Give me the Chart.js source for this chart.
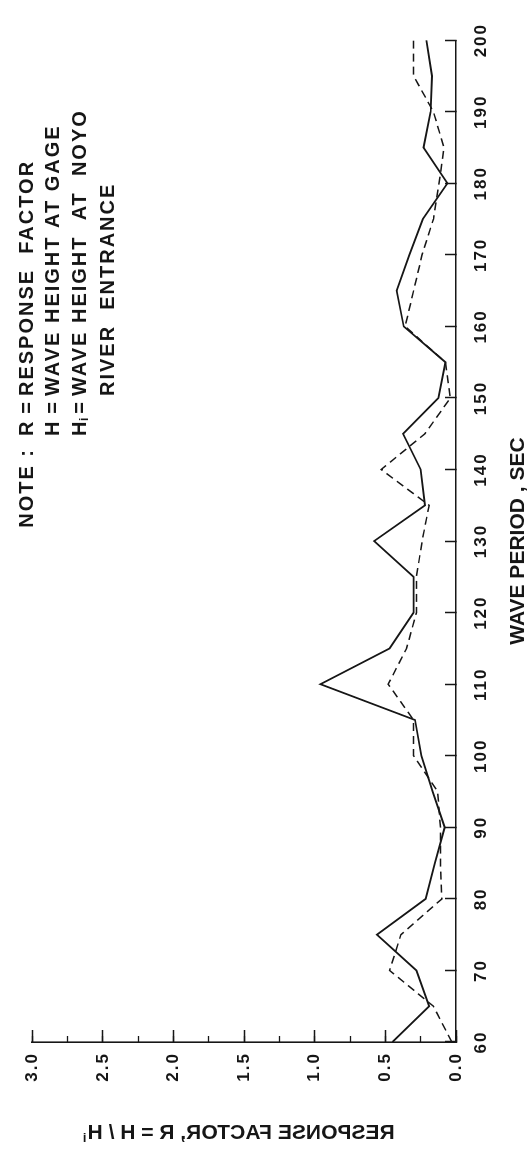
<!DOCTYPE html>
<html>
<head>
<meta charset="utf-8">
<script src="https://cdn.jsdelivr.net/npm/chart.js@4.4.1/dist/chart.umd.min.js"></script>
<style>
html,body{margin:0;padding:0;background:#fff;overflow:hidden;width:529px;height:1156px;}
#wrap{position:absolute;left:0;top:0;width:1156px;height:529px;transform-origin:0 0;transform:translateY(1156px) rotate(-90deg);}
canvas{display:block;}
</style>
</head>
<body>
<div id="wrap"><canvas id="c" width="1156" height="529"></canvas></div>
<script>
// ---- data ----
const periods = [60,65,70,75,80,85,90,95,100,105,110,115,120,125,130,135,140,145,150,155,160,165,170,175,180,185,190,195,200];
const responseSolid = [0.45,0.19,0.28,0.56,0.215,0.15,0.08,0.165,0.245,0.29,0.96,0.47,0.30,0.30,0.58,0.22,0.25,0.375,0.125,0.075,0.37,0.42,0.33,0.235,0.06,0.23,0.18,0.17,0.21];
const responseDashed = [0.03,0.16,0.47,0.39,0.10,0.11,0.11,0.13,0.30,0.30,0.48,0.35,0.28,0.28,0.24,0.19,0.53,0.22,0.04,0.075,0.36,0.30,0.24,0.16,0.12,0.085,0.16,0.30,0.30];
const periodTicks = {min:60, max:200, step:10};
const responseTicks = {min:0, max:3, step:0.5, minorStep:0.25};
const xTitle = 'WAVE PERIOD , SEC';
const yTitle = 'RESPONSE FACTOR, R = H / H';
const yTitleSub = 'i';
const noteLines = {
  lead: 'NOTE :',
  symbols: ['R','H','H'],
  texts: ['RESPONSE  FACTOR','WAVE HEIGHT AT GAGE','WAVE HEIGHT  AT  NOYO','RIVER  ENTRANCE']
};

const FONT = '"Liberation Sans", Arial, Helvetica, sans-serif';
const INK = '#161616';

const toPts = (ys) => periods.map((p,i)=>({x:p, y:ys[i]}));

const spacingPlugin = {
  id: 'tickSpacing',
  afterDatasetsDraw(chart){ chart.ctx.letterSpacing = '2px'; }
};

const annotPlugin = {
  id: 'annot',
  afterDraw(chart){
    const ctx = chart.ctx;
    const ca = chart.chartArea;
    ctx.letterSpacing = '0px';
    ctx.save();
    ctx.fillStyle = INK;
    ctx.textBaseline = 'middle';
    // NOTE block (horizontal in unrotated frame)
    const rows = [27, 53, 80, 108];
    const uSym = 720, uEq = 748, uTxt = 760;
    ctx.font = 'bold 20px ' + FONT;
    ctx.letterSpacing = '2px';
    ctx.textAlign = 'right';
    ctx.fillText(noteLines.lead, 708, rows[0]);
    ctx.textAlign = 'left';
    noteLines.symbols.forEach((s,i)=>{
      ctx.fillText(s, uSym, rows[i]);
    });
    ctx.font = 'bold 12px ' + FONT;
    ctx.letterSpacing = '0px';
    ctx.fillText('i', uSym + 15, rows[2] + 5);
    ctx.font = 'bold 20px ' + FONT;
    ctx.textAlign = 'center';
    for (let i=0;i<3;i++) ctx.fillText('=', uEq, rows[i]);
    ctx.letterSpacing = '2px';
    ctx.textAlign = 'left';
    noteLines.texts.forEach((t,i)=>{
      ctx.fillText(t, uTxt, rows[i]);
    });
    ctx.letterSpacing = '0px';
    ctx.restore();

    // mirrored y-axis title
    ctx.save();
    ctx.fillStyle = INK;
    ctx.font = 'bold 21px ' + FONT;
    ctx.textBaseline = 'middle';
    ctx.textAlign = 'left';
    const cv = (ca.top + ca.bottom)/2 - 6;
    ctx.translate(23, cv);
    ctx.transform(0,-1,-1,0,0,0);
    const w = ctx.measureText(yTitle).width;
    const total = w + 6;
    ctx.fillText(yTitle, -total/2, 0);
    ctx.font = 'bold 13px ' + FONT;
    ctx.fillText(yTitleSub, -total/2 + w + 1, 5);
    ctx.restore();
  }
};

new Chart(document.getElementById('c'), {
  type: 'line',
  data: {
    datasets: [
      {data: toPts(responseSolid), borderColor: INK, borderWidth: 1.8, pointRadius: 0, tension: 0, fill: false},
      {data: toPts(responseDashed), borderColor: INK, borderWidth: 1.5, borderDash: [8,5], pointRadius: 0, tension: 0, fill: false}
    ]
  },
  options: {
    responsive: false,
    devicePixelRatio: 1,
    animation: false,
    layout: {padding: {top: 15, right: 24, bottom: 0, left: 0}},
    plugins: {legend: {display: false}, tooltip: {enabled: false}},
    scales: {
      x: {
        type: 'linear', position: 'bottom',
        min: periodTicks.min, max: periodTicks.max,
        grid: {drawOnChartArea: false, tickLength: -11, tickColor: INK, tickWidth: 1.5},
        border: {color: INK, width: 1.6},
        ticks: {z: 1, stepSize: periodTicks.step, color: INK, padding: 26, maxRotation: 0,
                font: {family: FONT, size: 17, weight: 'bold'}},
        title: {display: true, text: xTitle, color: INK, padding: {top: 0, bottom: 0},
                font: {family: FONT, size: 21, weight: 'bold', lineHeight: 1}},
        afterFit(s){ s.height = 73; }
      },
      y: {
        type: 'linear', position: 'left', weight: 1,
        min: responseTicks.min, max: responseTicks.max,
        grid: {drawOnChartArea: false, tickLength: -12, tickColor: INK, tickWidth: 1.5},
        border: {color: INK, width: 1.6},
        ticks: {z: 1, stepSize: responseTicks.step, color: INK, padding: 22,
                callback: (v) => Number(v).toFixed(1),
                font: {family: FONT, size: 17, weight: 'bold'}},
        afterFit(s){ s.width = 114; }
      },
      yMinor: {
        type: 'linear', position: 'left', weight: 0,
        min: responseTicks.min, max: responseTicks.max,
        grid: {drawOnChartArea: false, tickLength: -6, tickColor: INK, tickWidth: 1.3},
        border: {display: false},
        ticks: {stepSize: responseTicks.minorStep, display: false},
        afterFit(s){ s.width = 0; }
      }
    }
  },
  plugins: [spacingPlugin, annotPlugin]
});
</script>
</body>
</html>
